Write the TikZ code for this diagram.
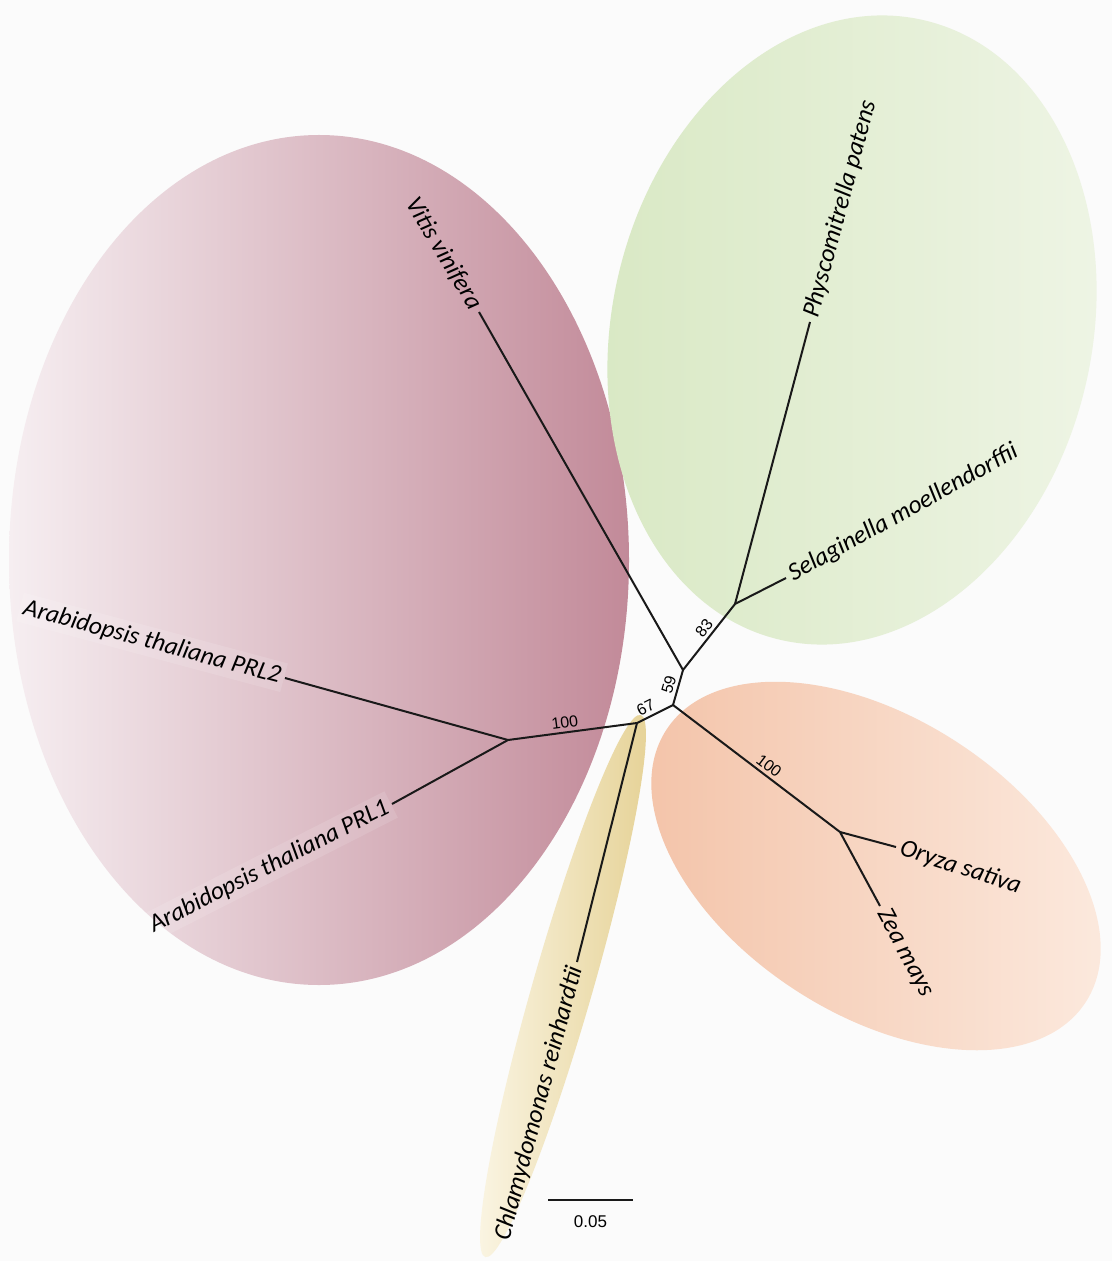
\documentclass[tikz,border=0pt]{standalone}
\usepackage{fontspec}
\newfontfamily\taxonfont{Carlito}
\newfontfamily\numfont{Liberation Sans}
\usetikzlibrary{shapes.geometric}

\definecolor{vitlight}{RGB}{246,238,241}
\definecolor{vitdark}{RGB}{194,138,153}
\definecolor{mosslight}{RGB}{239,245,230}
\definecolor{mossdark}{RGB}{216,232,195}
\definecolor{grasslight}{RGB}{252,235,224}
\definecolor{grassdark}{RGB}{243,194,167}
\definecolor{algalight}{RGB}{251,246,230}
\definecolor{algadark}{RGB}{229,209,148}

\begin{document}
\begin{tikzpicture}[
    x=0.5pt, y=-0.5pt,
    line width=1pt,
    clade/.style={ellipse, draw=none, inner sep=0pt, shading=axis},
    taxon/.style={font=\taxonfont\itshape\fontsize{12.6}{15}\selectfont, inner sep=2pt},
    boxedtaxon/.style={taxon, fill=white, fill opacity=0.12, text opacity=1},
    boot/.style={font=\numfont\fontsize{8}{9}\selectfont, sloped, above, inner sep=1.5pt},
    branch/.style={draw=black!90, line width=1pt, line join=round},
    scalebar/.style={font=\numfont\fontsize{8.5}{10}\selectfont}
]
\fill[black!1.5] (0,0) rectangle (1112,1261);
\useasboundingbox (0,0) rectangle (1112,1261);

% clade backgrounds
\node[clade, minimum width=310pt, minimum height=425pt, left color=vitlight, right color=vitdark] (eudicots) at (319,560) {};
\node[clade, minimum width=240pt, minimum height=318pt, rotate=-13, left color=mossdark, right color=mosslight] (mosses) at (852,330) {};
\node[clade, minimum width=250pt, minimum height=148pt, rotate=-33, left color=grassdark, right color=grasslight] (grasses) at (876,866) {};
\node[clade, minimum width=282pt, minimum height=30pt, rotate=74, left color=algalight, right color=algadark] (algae) at (563,986) {};

% inner nodes of the tree
\coordinate (nA) at (508,740);
\coordinate (nK) at (637,723);
\coordinate (nC) at (673,705);
\coordinate (nV) at (683,670);
\coordinate (nM) at (735,604);
\coordinate (nG) at (840,832);

% leaves
\node[taxon, anchor=east, rotate=-59] (vitis) at (479,312) {Vitis vinifera};
\node[taxon, anchor=west, rotate=75] (physco) at (810,322) {Physcomitrella patens};
\node[taxon, anchor=west, rotate=29] (selag) at (786,578) {Selaginella moellendorffii};
\node[taxon, anchor=west, rotate=-18] (oryza) at (896,847) {Oryza sativa};
\node[taxon, anchor=west, rotate=-62] (zea) at (880,906) {Zea mays};
\node[taxon, anchor=east, rotate=75] (chlamy) at (577,962) {Chlamydomonas reinhardtii};
\node[boxedtaxon, anchor=east, rotate=-15] (prl2) at (285,678) {Arabidopsis thaliana PRL2};
\node[boxedtaxon, anchor=east, rotate=27] (prl1) at (392,804) {Arabidopsis thaliana PRL1};

% branches
\draw[branch] (nA) -- (nK) node[boot, pos=0.45] {100};
\draw[branch] (nK) -- (nC) node[boot, pos=0.36] {67};
\draw[branch] (nC) -- (nV) node[boot, pos=0.5] {59};
\draw[branch] (nV) -- (nM) node[boot, pos=0.55] {83};
\draw[branch] (nC) -- (nG) node[boot, pos=0.54] {100};

\draw[branch] (nV) -- (vitis.east);
\draw[branch] (nM) -- (physco.west);
\draw[branch] (nM) -- (selag.west);
\draw[branch] (nG) -- (oryza.west);
\draw[branch] (nG) -- (zea.west);
\draw[branch] (nK) -- (chlamy.east);
\draw[branch] (nA) -- (prl2.east);
\draw[branch] (nA) -- (prl1.east);

% scale
\coordinate (bar0) at (548,1200);
\coordinate (bar1) at (633,1200);
\draw[branch] (bar0) -- (bar1) node[scalebar, midway, below=4pt] {0.05};
\end{tikzpicture}
\end{document}
